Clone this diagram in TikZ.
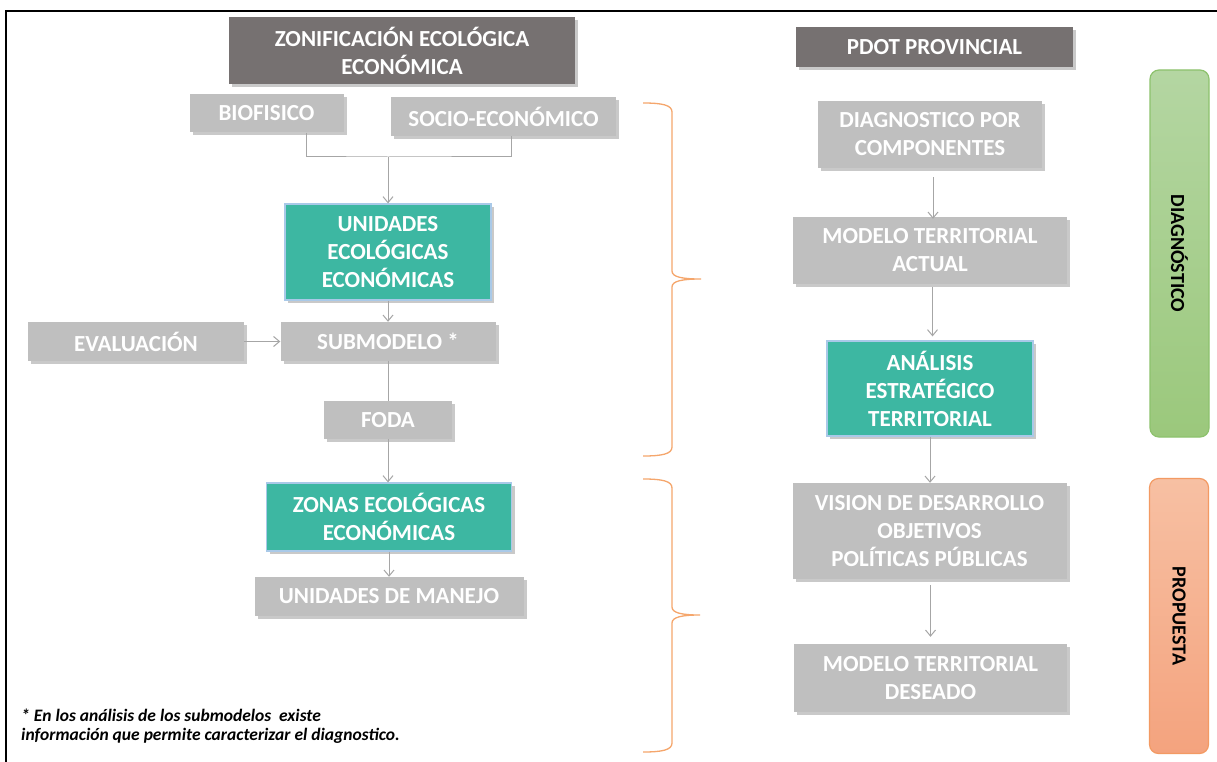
\documentclass[tikz,border=0pt]{standalone}
\usepackage{fontspec}
\setmainfont{Carlito}
\usetikzlibrary{arrows.meta,shadows}
\definecolor{darkbox}{HTML}{767171}
\definecolor{lightbox}{HTML}{BFBFBF}
\definecolor{tealbox}{HTML}{3DB7A2}
\definecolor{tealedge}{HTML}{A9C9E8}
\definecolor{conncol}{HTML}{A6A6A6}
\definecolor{bracecol}{HTML}{F5A66C}
\definecolor{greentop}{HTML}{B4D6A2}
\definecolor{greenbot}{HTML}{9BC87C}
\definecolor{greenedge}{HTML}{8DC26D}
\definecolor{orangetop}{HTML}{F7C0A3}
\definecolor{orangebot}{HTML}{F4A37E}
\definecolor{orangeedge}{HTML}{F39A63}
\tikzset{
  boxbase/.style={inner sep=0pt, align=center, text=white,
    font=\fontsize{23}{28}\selectfont\bfseries,
    drop shadow={shadow xshift=3pt, shadow yshift=-3pt, opacity=0.35, fill=black!60}},
  darkstyle/.style={boxbase, fill=darkbox},
  graystyle/.style={boxbase, fill=lightbox},
  tealstyle/.style={boxbase, fill=tealbox, draw=tealedge, line width=1.2pt},
  conn/.style={draw=conncol, line width=1pt},
  arr/.style={conn, -{Straight Barb[length=6pt,width=10pt]}},
  phasebox/.style={rounded corners=9pt, line width=1.2pt, minimum width=59pt},
  phasetext/.style={rotate=-90, font=\fontsize{20}{24}\selectfont\bfseries, text=black},
  bracestyle/.style={draw=bracecol, line width=1.3pt}
}
\begin{document}
\begin{tikzpicture}[x=1pt,y=-1pt]
\useasboundingbox (0,0) rectangle (1217,762);
\fill[white] (0,0) rectangle (1217,762);
\draw[line width=2.2pt] (6,11) rectangle (1250,800);

% left column
\node[darkstyle, minimum width=346pt, minimum height=67pt] (zon) at (402,50.5) {ZONIFICACIÓN ECOLÓGICA\\ECONÓMICA};
\node[graystyle, minimum width=154pt, minimum height=38pt] (bio) at (266.5,113.5) {BIOFISICO};
\node[graystyle, minimum width=225pt, minimum height=39pt] (socio) at (503.5,116.5) {SOCIO-ECONÓMICO};
\node[tealstyle, minimum width=206pt, minimum height=96pt] (uee) at (388,252) {UNIDADES\\ECOLÓGICAS\\ECONÓMICAS};
\node[graystyle, minimum width=215pt, minimum height=39pt] (sub) at (388,341.5) {SUBMODELO *};
\node[graystyle, minimum width=216pt, minimum height=39pt] (ev) at (136,341.5) {EVALUACIÓN};
\node[graystyle, minimum width=128pt, minimum height=38pt] (foda) at (388,420) {FODA};
\node[tealstyle, minimum width=245pt, minimum height=68pt] (zonas) at (389,517) {ZONAS ECOLÓGICAS\\ECONÓMICAS};
\node[graystyle, minimum width=269pt, minimum height=39pt] (manejo) at (389,596.5) {UNIDADES DE MANEJO};

\node[anchor=west, align=left, inner sep=0pt, font=\fontsize{17.5}{19}\selectfont\bfseries\itshape] (note) at (21,726.5)
  {* En los análisis de los submodelos\ \ existe\\información que permite caracterizar el diagnostico.};

% right column
\node[darkstyle, minimum width=277pt, minimum height=40pt] (pdot) at (934.5,47) {PDOT PROVINCIAL};
\node[graystyle, minimum width=224pt, minimum height=67pt] (dxc) at (930,134.5) {DIAGNOSTICO POR\\COMPONENTES};
\node[graystyle, minimum width=274pt, minimum height=67pt] (mta) at (930,250.5) {MODELO TERRITORIAL\\ACTUAL};
\node[tealstyle, minimum width=206pt, minimum height=95pt] (aet) at (930,388.5) {ANÁLISIS\\ESTRATÉGICO\\TERRITORIAL};
\node[graystyle, minimum width=274pt, minimum height=96pt] (vis) at (929.5,531) {VISION DE DESARROLLO\\OBJETIVOS\\POLÍTICAS PÚBLICAS};
\node[graystyle, minimum width=273pt, minimum height=68pt] (mtd) at (930.5,678) {MODELO TERRITORIAL\\DESEADO};

% phase bars
\node[phasebox, minimum height=367pt, draw=greenedge, top color=greentop, bottom color=greenbot] (diagbox) at (1179.5,253.5) {};
\node[phasetext] (diag) at (diagbox.center) {DIAGNÓSTICO};
\node[phasebox, minimum height=275pt, draw=orangeedge, top color=orangetop, bottom color=orangebot] (propbox) at (1179,616) {};
\node[phasetext] (prop) at (propbox.center) {PROPUESTA};

% connectors left
\coordinate (j) at (388,157);
\draw[conn] ([xshift=39.5pt]bio.south) |- (j) -| ([xshift=7.5pt]socio.south);
\draw[arr] (j) -- (uee.north);
\draw[arr] (uee.south) -- (sub.north);
\draw[arr] (ev.east) -- (sub.west);
\draw[conn] (sub.south) -- (foda.north);
\draw[arr] (foda.south) -- (foda.south |- zonas.north);
\draw[arr] (zonas.south) -- (zonas.south |- manejo.north);

% connectors right
\draw[arr, shorten <=9pt, shorten >=-2pt] ([xshift=3pt]dxc.south) -- ([xshift=3pt]dxc.south |- mta.north);
\draw[arr, shorten <=3pt, shorten >=4pt] ([xshift=2.5pt]mta.south) -- ([xshift=2.5pt]mta.south |- aet.north);
\draw[arr] (aet.south) -- (aet.south |- vis.north);
\draw[arr, shorten <=6pt, shorten >=7pt] ([xshift=1pt]vis.south) -- ([xshift=1pt]vis.south |- mtd.north);

% braces
\draw[bracestyle] (643,103) .. controls (662,103) and (672,105) .. (672,112) -- (672,271)
  .. controls (672,277) and (682,279) .. (701,279) .. controls (682,279) and (672,281) .. (672,287)
  -- (672,447) .. controls (672,454) and (662,456) .. (643,456);
\draw[bracestyle] (643,479) .. controls (662,479) and (672,481) .. (672,488) -- (672,607)
  .. controls (672,613) and (682,615) .. (700,615) .. controls (682,615) and (672,617) .. (672,623)
  -- (672,743) .. controls (672,750) and (662,752) .. (643,752);
\end{tikzpicture}
\end{document}
